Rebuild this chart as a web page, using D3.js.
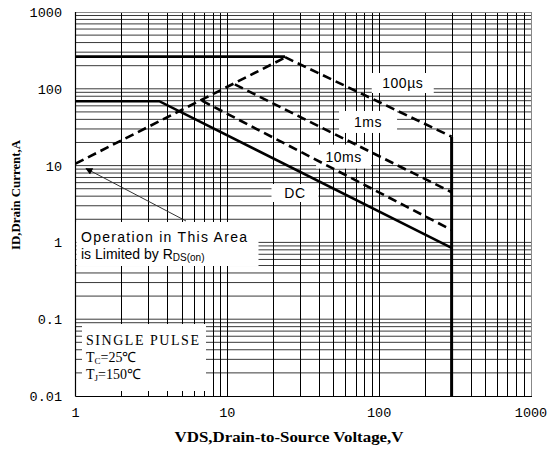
<!DOCTYPE html>
<html>
<head>
<meta charset="utf-8">
<script src="https://cdn.jsdelivr.net/npm/d3@7"></script>
<style>
  html, body { margin: 0; padding: 0; background: #fff; }
  svg { display: block; }
</style>
</head>
<body>
<svg id="chart" width="549" height="449"></svg>
<script>
// ---------------- data ----------------
const xTickValues = [1, 10, 100, 1000];
const xTickLabels = ["1", "10", "100", "1000"];
const yTickValues = [0.01, 0.1, 1, 10, 100, 1000];
const yTickLabels = ["0.01", "0.1", "1", "10", "100", "1000"];

// Limit lines (VDS in V, ID in A)
const rdsonV = [1, 24];
const rdsonI = [10.6, 255];
const currentLimitV = [1, 24];
const currentLimitI = [262, 262];
const us100V = [24, 300];
const us100I = [258, 23.8];
const ms1V = [11.2, 300];
const ms1I = [114, 4.5];
const ms10V = [6.8, 300];
const ms10I = [70, 1.45];
const dcV = [1, 3.56, 300];
const dcI = [69, 69, 0.85];
const bvdssV = [300, 300];
const bvdssI = [23.8, 0.01];

const curveLabels = ["100µs", "1ms", "10ms", "DC"];
const curveLabelV = [143, 84.5, 58.3, 27.9];
const curveLabelI = [119, 37, 13.1, 4.4];

// ---------------- layout ----------------
const W = 549, H = 449;
const L = 75.5, R = 531, T = 12, B = 396;
const labelBoxW = [62, 58, 55, 47];
const labelBoxH = [20, 22, 24, 18];

const svg = d3.select("#chart");
const x = d3.scaleLog().domain([1, 1000]).range([L, R]);
const y = d3.scaleLog().domain([0.01, 1000]).range([B, T]);

// minor grid values
const xGrid = [];
for (const d of [1, 10, 100]) for (let k = 2; k <= 10; k++) xGrid.push(d * k);
const yGrid = [];
for (const d of [0.01, 0.1, 1, 10, 100]) for (let k = 2; k <= 9; k++) yGrid.push(+(d * k).toPrecision(3));
for (const v of [0.1, 1, 10, 100]) yGrid.push(v);

const grid = svg.append("g");
grid.selectAll("line.h").data(yGrid).join("line")
  .attr("x1", L).attr("x2", R)
  .attr("y1", d => y(d)).attr("y2", d => y(d))
  .attr("stroke", "#3a3a3a").attr("stroke-width", 1);
grid.selectAll("line.v").data(xGrid.filter(v => v < 1000)).join("line")
  .attr("x1", d => Math.round(x(d)) + 0.5).attr("x2", d => Math.round(x(d)) + 0.5)
  .attr("y1", T).attr("y2", B)
  .attr("stroke", "#000").attr("stroke-width", 1).attr("shape-rendering", "crispEdges");

// frame
svg.append("line").attr("x1", L).attr("x2", R).attr("y1", T + 0.5).attr("y2", T + 0.5).attr("stroke", "#888");
svg.append("line").attr("x1", R + 0.5).attr("x2", R + 0.5).attr("y1", T).attr("y2", B).attr("stroke", "#888");
svg.append("line").attr("x1", L).attr("x2", L).attr("y1", T).attr("y2", B + 0.5).attr("stroke", "#000").attr("stroke-width", 1.2);
svg.append("line").attr("x1", L).attr("x2", R + 1).attr("y1", B + 0.5).attr("y2", B + 0.5).attr("stroke", "#000");

// white annotation boxes covering grid
svg.append("rect").attr("x", L + 1).attr("y", 222).attr("width", 182).attr("height", 44).attr("fill", "#fff");
svg.append("rect").attr("x", 82).attr("y", 324).attr("width", 124).attr("height", 67).attr("fill", "#fff");
// curve label boxes
curveLabels.forEach((t, i) => {
  svg.append("rect")
    .attr("x", x(curveLabelV[i]) - labelBoxW[i] / 2)
    .attr("y", y(curveLabelI[i]) - labelBoxH[i] / 2)
    .attr("width", labelBoxW[i]).attr("height", labelBoxH[i])
    .attr("fill", "#fff");
});

// data lines
const line = (vs, is) => d3.line().x(d => x(d[0])).y(d => y(d[1]))(vs.map((v, k) => [v, is[k]]));
const dash = "9,5";
svg.append("path").attr("d", line(rdsonV, rdsonI)).attr("fill", "none").attr("stroke", "#000").attr("stroke-width", 2.6).attr("stroke-dasharray", dash);
svg.append("path").attr("d", line(currentLimitV, currentLimitI)).attr("fill", "none").attr("stroke", "#000").attr("stroke-width", 2.6);
svg.append("path").attr("d", line(us100V, us100I)).attr("fill", "none").attr("stroke", "#000").attr("stroke-width", 2.6).attr("stroke-dasharray", dash);
svg.append("path").attr("d", line(ms1V, ms1I)).attr("fill", "none").attr("stroke", "#000").attr("stroke-width", 2.6).attr("stroke-dasharray", dash);
svg.append("path").attr("d", line(ms10V, ms10I)).attr("fill", "none").attr("stroke", "#000").attr("stroke-width", 2.6).attr("stroke-dasharray", dash);
svg.append("path").attr("d", line(dcV, dcI)).attr("fill", "none").attr("stroke", "#000").attr("stroke-width", 2.6);
svg.append("path").attr("d", line(bvdssV, bvdssI)).attr("fill", "none").attr("stroke", "#000").attr("stroke-width", 3);

// curve labels
curveLabels.forEach((t, i) => {
  svg.append("text")
    .attr("x", x(curveLabelV[i])).attr("y", y(curveLabelI[i]) + 5)
    .attr("text-anchor", "middle")
    .attr("font-family", "'Liberation Sans', Arial, sans-serif")
    .attr("font-size", 14).attr("letter-spacing", 0.5)
    .text(t);
});

// arrow
svg.append("defs").append("marker").attr("id", "ah")
  .attr("viewBox", "0 0 10 10").attr("refX", 9).attr("refY", 5)
  .attr("markerWidth", 9).attr("markerHeight", 7).attr("markerUnits", "userSpaceOnUse")
  .attr("orient", "auto")
  .append("path").attr("d", "M0,0L10,5L0,10z").attr("fill", "#000");
svg.append("line").attr("x1", 186).attr("y1", 221).attr("x2", 86).attr("y2", 168.5)
  .attr("stroke", "#333").attr("stroke-width", 1).attr("marker-end", "url(#ah)");

// area annotation
const ann = svg.append("g").attr("font-family", "'Liberation Sans', Arial, sans-serif").attr("font-size", 14);
ann.append("text").attr("x", 81).attr("y", 242).attr("textLength", 166).attr("lengthAdjust", "spacing").text("Operation in This Area");
const t2 = ann.append("text").attr("x", 81).attr("y", 259);
t2.append("tspan").text("is Limited by R");
t2.append("tspan").attr("font-size", 10).attr("dy", 2).text("DS(on)");

// conditions box
const cond = svg.append("g").attr("font-family", "'Liberation Serif', 'Times New Roman', serif").attr("font-size", 14);
cond.append("text").attr("x", 86).attr("y", 345).attr("textLength", 113).attr("lengthAdjust", "spacing").text("SINGLE PULSE");
const c2 = cond.append("text").attr("x", 86).attr("y", 362);
c2.append("tspan").text("T");
c2.append("tspan").attr("font-size", 9).attr("dy", 2).text("C");
c2.append("tspan").attr("dy", -2).text("=25℃");
const c3 = cond.append("text").attr("x", 86).attr("y", 379);
c3.append("tspan").text("T");
c3.append("tspan").attr("font-size", 9).attr("dy", 2).text("J");
c3.append("tspan").attr("dy", -2).text("=150℃");

// tick labels
const tickFont = "'Liberation Mono', 'Courier New', monospace";
svg.append("g").selectAll("text").data(yTickValues).join("text")
  .attr("x", 62).attr("y", d => y(d) + 5)
  .attr("text-anchor", "end").attr("font-family", tickFont).attr("font-size", 13.5)
  .text((d, i) => yTickLabels[i]);
svg.append("g").selectAll("text").data(xTickValues).join("text")
  .attr("x", d => x(d)).attr("y", 417)
  .attr("text-anchor", "middle").attr("font-family", tickFont).attr("font-size", 13.5)
  .text((d, i) => xTickLabels[i]);

// axis titles
svg.append("text").attr("x", 289).attr("y", 442).attr("text-anchor", "middle")
  .attr("font-family", "'Liberation Serif', 'Times New Roman', serif").attr("font-weight", "bold").attr("font-size", 14.5)
  .attr("textLength", 229).attr("lengthAdjust", "spacingAndGlyphs")
  .text("VDS,Drain-to-Source Voltage,V");
svg.append("text").attr("transform", "translate(20,195) rotate(-90)").attr("text-anchor", "middle")
  .attr("font-family", "'Liberation Serif', 'Times New Roman', serif").attr("font-weight", "bold").attr("font-size", 13.5)
  .attr("textLength", 110).attr("lengthAdjust", "spacingAndGlyphs")
  .text("ID,Drain Current,A");
</script>
</body>
</html>
